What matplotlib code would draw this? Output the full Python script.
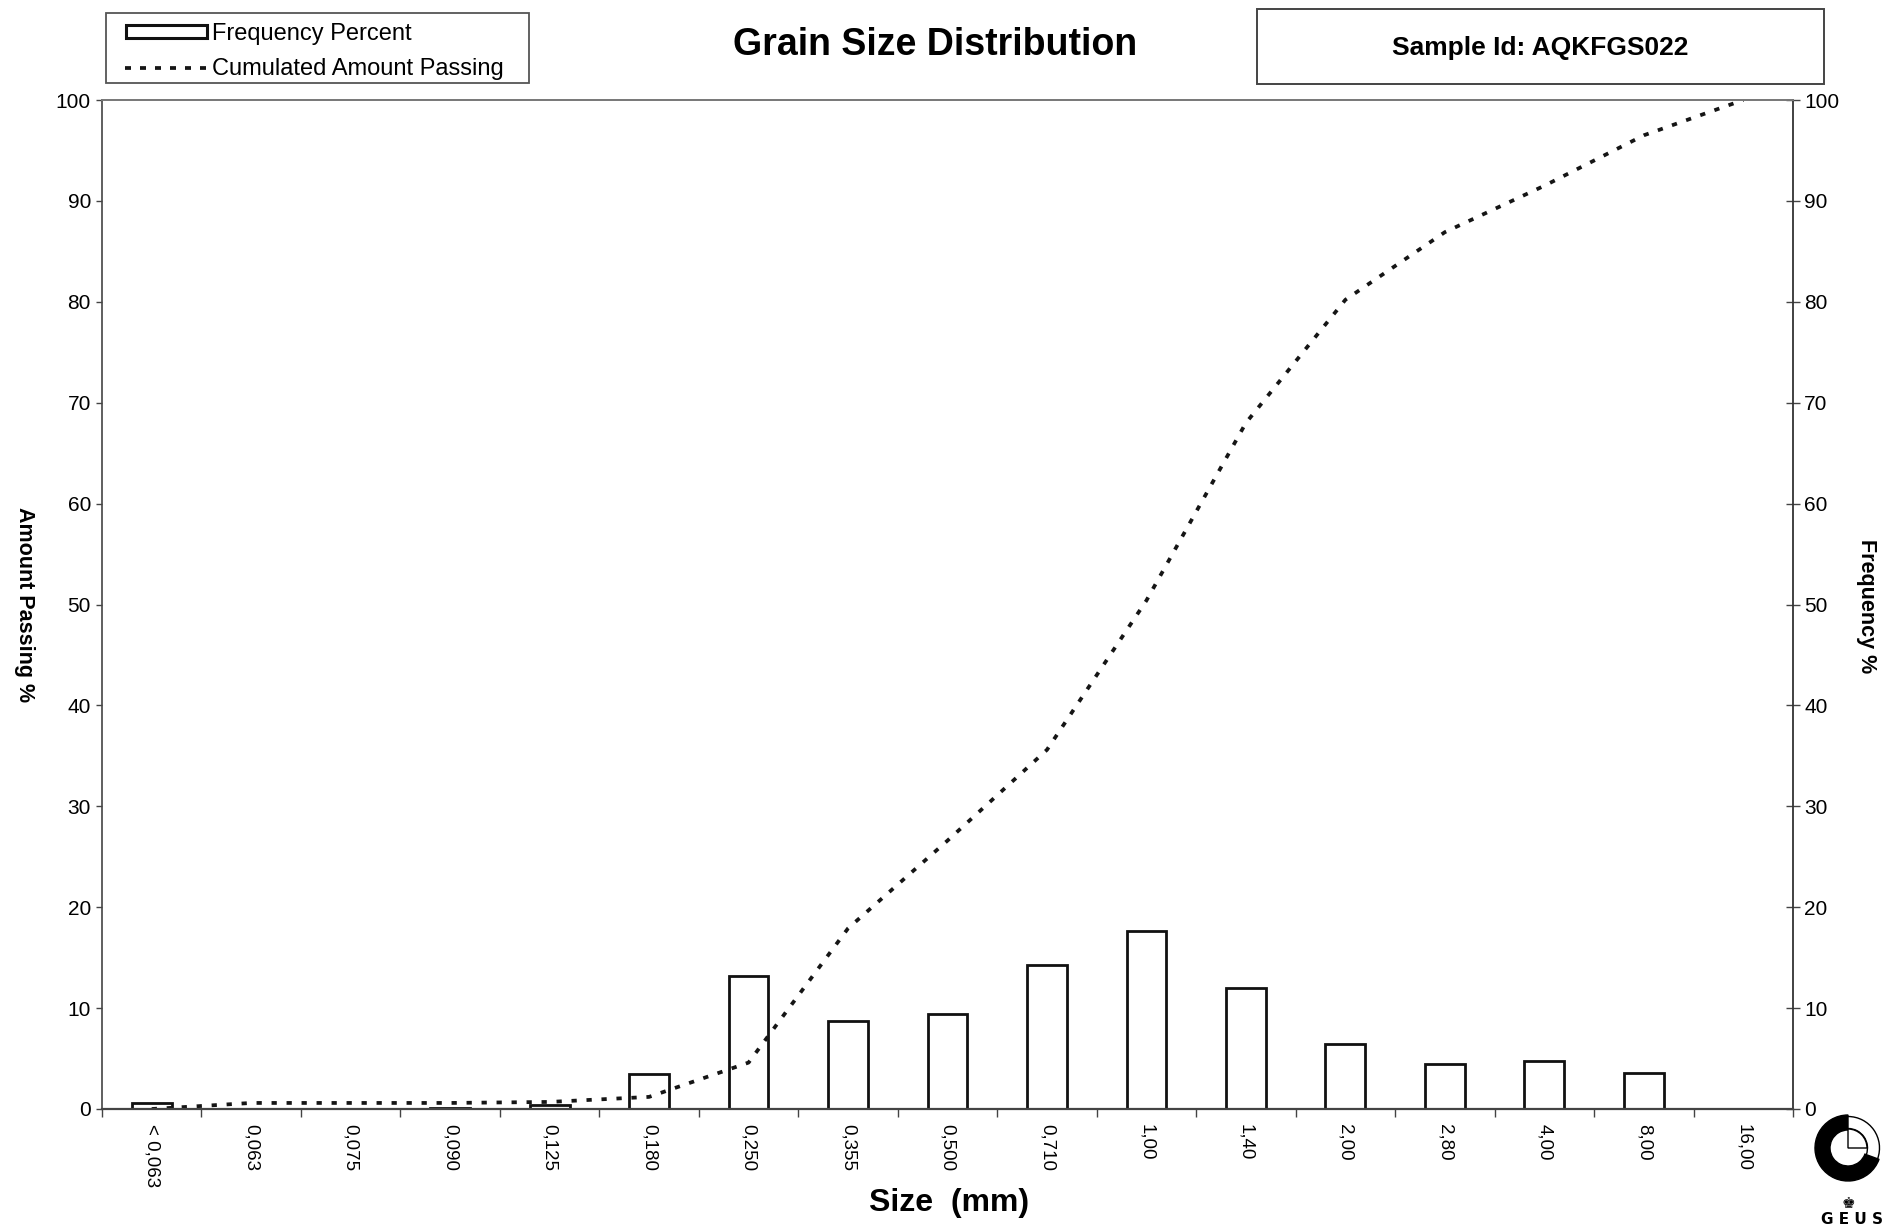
import matplotlib
matplotlib.use("Agg")
import matplotlib.pyplot as plt
from matplotlib.patches import Rectangle, Wedge
from matplotlib.lines import Line2D
import numpy as np

plt.rcParams['font.family'] = ['Liberation Sans', 'DejaVu Sans']

# ---------------- data ----------------
categories = ['< 0,063', '0,063', '0,075', '0,090', '0,125', '0,180', '0,250', '0,355',
              '0,500', '0,710', '1,00', '1,40', '2,00', '2,80', '4,00', '8,00', '16,00']
frequency_percent = [0.6, 0.0, 0.0, 0.1, 0.4, 3.5, 13.2, 8.7,
                     9.4, 14.3, 17.6, 12.0, 6.4, 4.5, 4.8, 3.6, 0.0]
cumulated_passing = [0.0, 0.6, 0.6, 0.6, 0.7, 1.2, 4.6, 17.9,
                     26.6, 35.6, 50.4, 68.0, 80.2, 86.9, 91.5, 96.5, 100.0]
y_ticks = list(range(0, 101, 10))

title = 'Grain Size Distribution'
sample_id = 'Sample Id: AQKFGS022'

# ---------------- figure ----------------
W, H = 1897, 1232
fig = plt.figure(figsize=(W / 100, H / 100), dpi=100, facecolor='white')
L, R, T, B = 102, 1793, 100, 1109
ax = fig.add_axes([L / W, 1 - B / H, (R - L) / W, (B - T) / H])
ax2 = ax.twinx()
ax.set_zorder(ax2.get_zorder() + 1)
ax.patch.set_visible(False)

x = np.arange(len(categories))
ax2.bar(x, frequency_percent, width=0.4, facecolor='white', edgecolor='#111111', linewidth=2.0)
ax.plot(x, cumulated_passing, color='#151515', lw=2.7, linestyle=(0, (1.4, 2.6)),
        dash_capstyle='butt', solid_capstyle='butt')

for a in (ax, ax2):
    a.set_xlim(-0.5, len(categories) - 0.5)
    a.set_ylim(0, 100)
    a.set_yticks(y_ticks)

# spines
for s in ax2.spines.values():
    s.set_visible(False)
ax2.spines['right'].set_visible(True)
ax2.spines['right'].set_color('#333333')
ax2.spines['right'].set_linewidth(1.3)
ax.spines['right'].set_visible(False)
ax.spines['left'].set_color('#444444')
ax.spines['left'].set_linewidth(1.2)
ax.spines['bottom'].set_color('#444444')
ax.spines['bottom'].set_linewidth(1.6)
ax.spines['top'].set_color('#777777')
ax.spines['top'].set_linewidth(1.4)

# y ticks
ax.tick_params(axis='y', direction='out', length=4.5, width=1, color='#444444',
               labelsize=15, pad=3.5)
ax2.tick_params(axis='y', direction='inout', length=10, width=1, color='#444444',
                labelsize=15, pad=3)

# x ticks: boundaries as major ticks, labels at category centers (minor)
ax.set_xticks(np.arange(-0.5, len(categories), 1.0))
ax.set_xticklabels([])
ax.set_xticks(x, minor=True)
ax.set_xticklabels(categories, minor=True, rotation=270, fontsize=13.5, ha='center', va='top')
ax.tick_params(axis='x', which='major', direction='out', length=6, width=1, color='#444444')
ax.tick_params(axis='x', which='minor', length=0, pad=11)

# axis labels
fig.text(949 / W, 1 - 1203 / H, 'Size  (mm)', ha='center', va='center',
         fontsize=23, fontweight='bold')
fig.text(24 / W, 1 - 605 / H, 'Amount Passing %', ha='center', va='center',
         rotation=270, fontsize=15.5, fontweight='bold')
fig.text(1867 / W, 1 - 606 / H, 'Frequency %', ha='center', va='center',
         rotation=270, fontsize=15.5, fontweight='bold')

# title
fig.text(935 / W, 1 - 45 / H, title, ha='center', va='center',
         fontsize=27, fontweight='bold')

# sample box
fig.patches.append(Rectangle((1257 / W, 1 - 84 / H), (1824 - 1257) / W, (84 - 9) / H,
                             transform=fig.transFigure, facecolor='white',
                             edgecolor='#444444', linewidth=1.4))
fig.text(1540 / W, 1 - 48 / H, sample_id, ha='center', va='center',
         fontsize=19, fontweight='bold')

# legend box
fig.patches.append(Rectangle((106 / W, 1 - 83 / H), (529 - 106) / W, (83 - 13) / H,
                             transform=fig.transFigure, facecolor='white',
                             edgecolor='#555555', linewidth=1.3))
fig.patches.append(Rectangle((126 / W, 1 - 38 / H), (207 - 126) / W, (38 - 25) / H,
                             transform=fig.transFigure, facecolor='white',
                             edgecolor='#111111', linewidth=2.2))
fig.text(212 / W, 1 - 34 / H, 'Frequency Percent', ha='left', va='center', fontsize=17)
fig.lines.append(Line2D([125 / W, 209 / W], [1 - 68 / H, 1 - 68 / H],
                        transform=fig.transFigure, color='#151515', lw=2.7,
                        linestyle=(0, (1.6, 2.4)), dash_capstyle='butt'))
fig.text(212 / W, 1 - 69 / H, 'Cumulated Amount Passing', ha='left', va='center', fontsize=17)

# GEUS logo
cx, cy, s = 1848, 1148, 40
lax = fig.add_axes([(cx - s) / W, 1 - (cy + s) / H, 2 * s / W, 2 * s / H])
lax.set_xlim(-s, s)
lax.set_ylim(-s, s)
lax.axis('off')
lax.add_patch(Wedge((0, 0), 33, 90, 340, width=15, facecolor='black', edgecolor='black'))
lax.add_patch(Wedge((0, 0), 31.5, -20, 90, width=12, facecolor='white', edgecolor='black', lw=1.0))
lax.add_patch(Wedge((0, 0), 19, 0, 90, facecolor='white', edgecolor='black', lw=1.0))
fig.text(1848 / W, 1 - 1203 / H, '\u265a', ha='center', va='center', fontsize=11,
         family=['DejaVu Sans'])
fig.text(1852 / W, 1 - 1220 / H, 'G E U S', ha='center', va='center', fontsize=11,
         fontweight='bold', family=['DejaVu Sans'])

fig.savefig('out.png', dpi=100, facecolor='white')
